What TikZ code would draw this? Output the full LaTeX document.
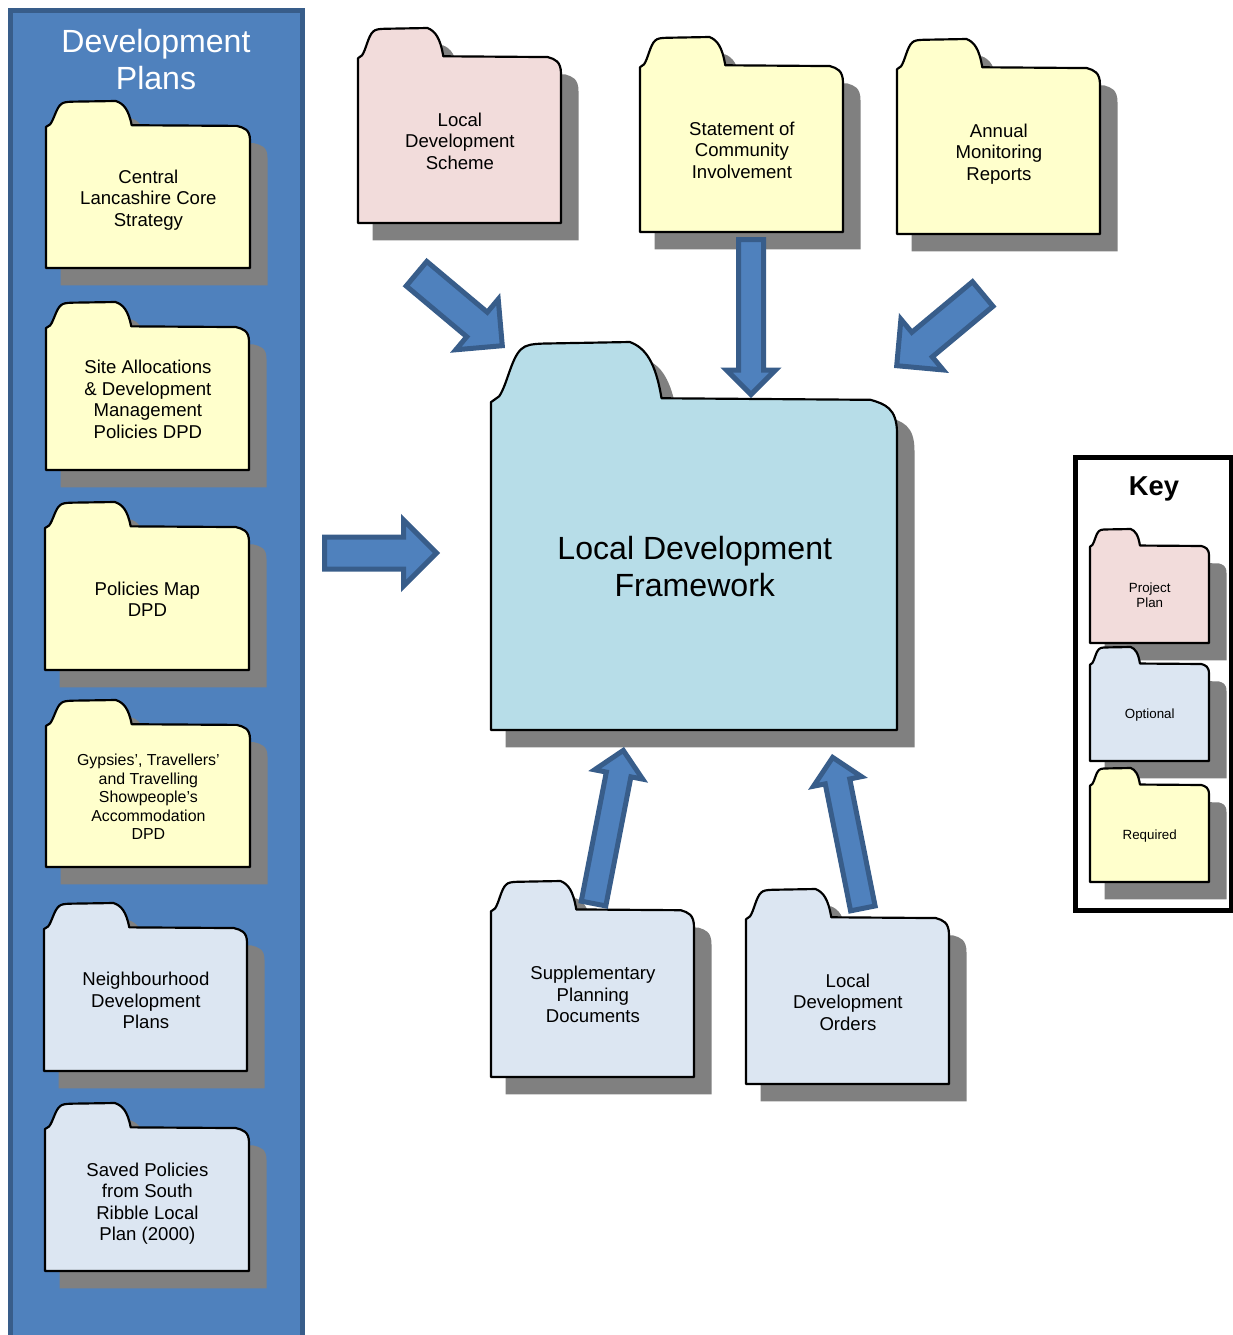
\documentclass[tikz,border=0pt]{standalone}
\usepackage{fontspec}
\setmainfont{Liberation Sans}
\definecolor{c4f81bd}{RGB}{79,129,189}
\definecolor{c385d8a}{RGB}{56,93,138}
\definecolor{c808080}{RGB}{128,128,128}
\definecolor{cf2dcdb}{RGB}{242,220,219}
\definecolor{cffffcc}{RGB}{255,255,204}
\definecolor{cdce6f2}{RGB}{220,230,242}
\definecolor{cb7dde8}{RGB}{183,221,232}
\tikzset{
  foldershadow/.style={fill=c808080},
  folderbody/.style={draw=black,line width=1.3pt,line join=round},
  foldertext/.style={align=center,font=\fontsize{11.15}{12.9}\selectfont},
  smalltext/.style={align=center,font=\fontsize{9.55}{11.1}\selectfont},
  keytext/.style={align=center,font=\fontsize{8}{9}\selectfont},
  bigtext/.style={align=center,font=\fontsize{19.25}{22.2}\selectfont},
  bigarrow/.style={draw=c385d8a,fill=c4f81bd,line width=3pt,line join=miter},
}
\newcommand{\folderoutline}{(0,1) -- (0,.155) -- (.02,.14)
  .. controls (.04,.11) and (.05,.04) .. (.075,.018)
  .. controls (.085,.008) and (.1,.005) .. (.13,.004) -- (.342,0)
  .. controls (.38,.015) and (.405,.05) .. (.42,.145) -- (.935,.149)
  .. controls (.97,.16) and (1,.17) .. (1,.235) -- (1,1) -- cycle}
\newcommand{\folder}[9][.58]{
  \begin{scope}[shift={(#3+14.5,#4+17.3)}, xscale=#5+3, yscale=#6]
    \path[foldershadow] \folderoutline;
  \end{scope}
  \begin{scope}[shift={(#3,#4)}, xscale=#5, yscale=#6]
    \path[folderbody,fill=#7] \folderoutline;
    \node[#8] (#2) at (.502,#1) {#9};
  \end{scope}
}
\newcommand{\blockarrow}[6]{
  \begin{scope}[shift={(#1,#2)}, rotate=#3]
    \path[bigarrow] (0,0) -- (-#6,#6) -- (-#6,#5) -- (-#4,#5) -- (-#4,-#5)
      -- (-#6,-#5) -- (-#6,-#6) -- cycle;
  \end{scope}
}

\begin{document}
\begin{tikzpicture}[y=0.60pt, x=0.60pt, yscale=-1.000000, xscale=1.000000, inner sep=0pt, outer sep=0pt]
\useasboundingbox (0,0) rectangle (1233,1335);

\path[draw=c385d8a,fill=c4f81bd,line width=3pt] (10,1335) -- (10,10) -- (302,10) -- (302,1335);
\node[bigtext,white] (plansTitle) at (156,59.5) {Development\\Plans};

\folder[.593]{coreStrategy}{46}{101}{204}{167}{cffffcc}{foldertext}{Central\\Lancashire Core\\Strategy}
\folder{siteAllocations}{46}{302}{203}{168}{cffffcc}{foldertext}{Site Allocations\\\& Development\\Management\\Policies DPD}
\folder{policiesMap}{45}{502}{204}{168}{cffffcc}{foldertext}{Policies Map\\DPD}
\folder{gypsies}{46}{700}{204}{167}{cffffcc}{smalltext}{Gypsies’, Travellers’\\and Travelling\\Showpeople’s\\Accommodation\\DPD}
\folder{neighbourhood}{44}{903}{203}{168}{cdce6f2}{foldertext}{Neighbourhood\\Development\\Plans}
\folder[.598]{savedPolicies}{45}{1103}{204}{168}{cdce6f2}{foldertext}{Saved Policies\\from South\\Ribble Local\\Plan (2000)}

\folder{scheme}{358}{28}{203}{195}{cf2dcdb}{foldertext}{Local\\Development\\Scheme}
\folder{statement}{640}{37}{203}{195}{cffffcc}{foldertext}{Statement of\\Community\\Involvement}
\folder[.59]{monitoring}{897}{39}{203}{195}{cffffcc}{foldertext}{Annual\\Monitoring\\Reports}
\folder[.578]{framework}{491}{342}{406}{388}{cb7dde8}{bigtext}{Local Development\\Framework}
\folder{supplementary}{491}{881}{203}{196}{cdce6f2}{foldertext}{Supplementary\\Planning\\Documents}
\folder{orders}{746}{889}{203}{195}{cdce6f2}{foldertext}{Local\\Development\\Orders}

\path[draw=black,line width=3pt] (1075.5,457) rectangle (1231,910);
\node[font=\fontsize{16.4}{18}\selectfont\bfseries] (keyTitle) at (1154,489) {Key};
\folder{keyProject}{1090}{529}{119}{114}{cf2dcdb}{keytext}{Project\\Plan}
\folder[.6]{keyOptional}{1090}{647}{119}{114}{cdce6f2}{keytext}{Optional}
\folder[.6]{keyRequired}{1090}{768}{119}{114}{cffffcc}{keytext}{Required}

\blockarrow{502.3}{345.7}{40}{112}{16}{33}
\blockarrow{751}{394.5}{90}{155}{12.5}{24.5}
\blockarrow{896.7}{365.7}{140.2}{112}{16}{33}
\blockarrow{436.5}{553}{0}{112}{16}{33}
\blockarrow{623.3}{750.4}{-79}{156}{12.5}{24.5}
\blockarrow{832.7}{757.4}{-101.3}{154}{12.5}{24.5}
\end{tikzpicture}
\end{document}
